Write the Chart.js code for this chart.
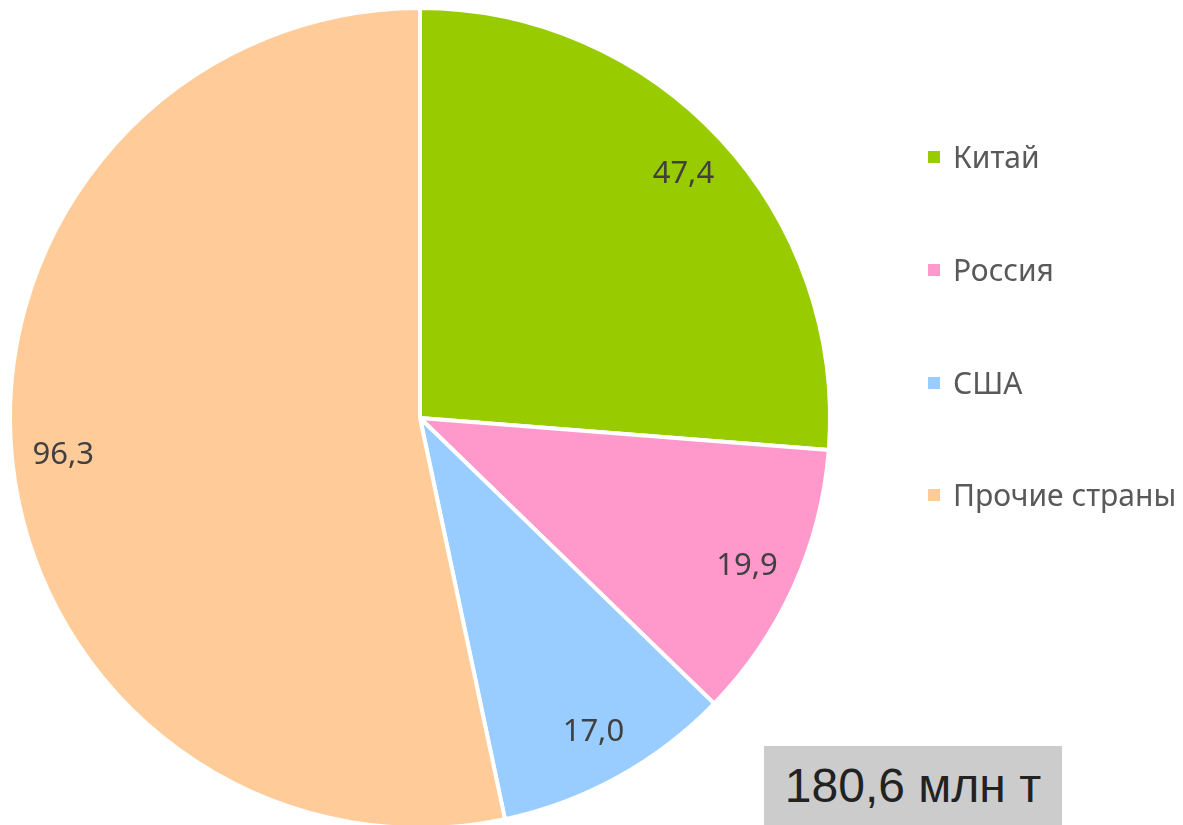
<!DOCTYPE html>
<html>
<head>
<meta charset="utf-8">
<script src="https://cdn.jsdelivr.net/npm/chart.js@4/dist/chart.umd.min.js"></script>
<style>
	html, body { margin: 0; padding: 0; background: #fff; overflow: hidden; }
	#wrap { position: relative; width: 1183px; height: 825px; overflow: hidden; }
	#grafico { position: absolute; left: 0; top: 0; }
	#legenda { position: absolute; left: 928px; top: 0; font-family: "Noto Sans", sans-serif; font-size: 30px; color: #595959; }
	#legenda .item { position: absolute; left: 0; white-space: nowrap; display: flex; align-items: center; }
	#legenda .box { width: 12px; height: 12px; margin-right: 13px; }
	#total { position: absolute; left: 764px; top: 746px; width: 298px; height: 79px; background: #cccccc;
		font-family: "Liberation Sans", Arial, sans-serif; font-size: 48px; color: #222; text-align: center; line-height: 79px; }
</style>
</head>
<body>
<div id="wrap">
	<canvas id="grafico" width="1183" height="830"></canvas>
	<div id="legenda"></div>
	<div id="total">180,6 млн т</div>
</div>
<script>
const paises = ['Китай', 'Россия', 'США', 'Прочие страны'];
const valores = [47.4, 19.9, 17.0, 96.3];
const cores = ['#99cc00', '#ff99cc', '#99ccff', '#ffcc99'];
const legendaY = [157, 270, 383, 495];

// legenda em html
const legenda = document.getElementById('legenda');
paises.forEach((pais, i) => {
	const item = document.createElement('div');
	item.className = 'item';
	item.style.top = (legendaY[i] - 21) + 'px';
	item.innerHTML = '<span class="box" style="background:' + cores[i] + '"></span>' + pais;
	legenda.appendChild(item);
});

// valores dentro das fatias
const rotulos = {
	id: 'rotulos',
	afterDatasetsDraw(chart) {
		const ctx = chart.ctx;
		const meta = chart.getDatasetMeta(0);
		ctx.save();
		ctx.font = '31px "Noto Sans", sans-serif';
		ctx.fillStyle = '#404040';
		ctx.textAlign = 'center';
		ctx.textBaseline = 'middle';
		meta.data.forEach((arc, i) => {
			const p = arc.getProps(['x', 'y', 'startAngle', 'endAngle', 'outerRadius'], true);
			const meio = (p.startAngle + p.endAngle) / 2;
			const r = p.outerRadius * 0.875;
			ctx.fillText(valores[i].toFixed(1).replace('.', ','), p.x + Math.cos(meio) * r, p.y + Math.sin(meio) * r);
		});
		ctx.restore();
	}
};

const ctx = document.getElementById('grafico');
const chartGraph = new Chart(ctx, {
	type: 'pie',
	data: {
		labels: paises,
		datasets: [{
			data: valores,
			backgroundColor: cores,
			borderColor: '#ffffff',
			borderWidth: 4
		}]
	},
	options: {
		responsive: false,
		animation: false,
		layout: { padding: { left: 8, top: 6, right: 351, bottom: 0 } },
		plugins: {
			legend: { display: false },
			tooltip: { enabled: false }
		}
	},
	plugins: [rotulos]
});
</script>
</body>
</html>
